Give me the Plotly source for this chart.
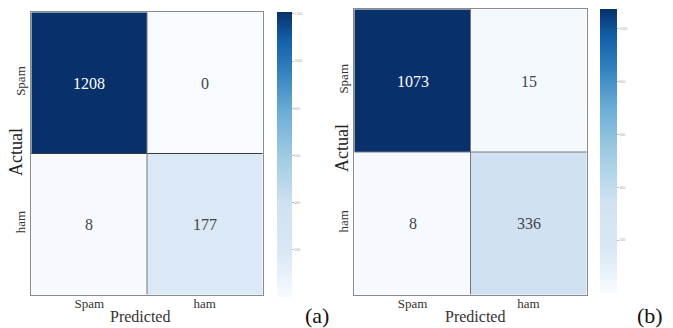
import plotly.graph_objects as go

# Confusion matrices for the two classifiers
labels = ["Spam", "ham"]
cm_a = [[1208, 0],
        [8, 177]]
cm_b = [[1073, 15],
        [8, 336]]
cbar_ticks = [200, 400, 600, 800, 1000, 1200]

W, H = 673, 328
SERIF = "Liberation Serif"

# blue sequential scale, kept pale through the lower third
blues = [
    [0.0, "#f7fbff"],
    [0.15, "#dae8f5"],
    [0.32, "#d0e2f2"],
    [0.5, "#9ecae1"],
    [0.65, "#6baed6"],
    [0.8, "#2f7ebc"],
    [0.9, "#1361a9"],
    [1.0, "#08306b"],
]


def px(v):
    return v / W


def py(v):
    return 1 - v / H


fig = go.Figure()

panels = [
    # matrix, axis suffix, heatmap box (x0, x1, ytop, ybot), colorbar (x, ytop, ybot, thick),
    # axis-title positions (actual_x, actual_y, predicted_x, predicted_y)
    (cm_a, "", (31, 263, 12, 295), (277, 12, 297, 15), (16, 152, 140, 316)),
    (cm_b, "2", (354, 587, 9, 295), (600, 9, 293, 17), (342, 148, 475, 316)),
]

for z, sfx, box, cb, tpos in panels:
    x0, x1, yt, yb = box
    zmax = max(max(r) for r in z)
    fig.add_trace(go.Heatmap(
        z=z, x=labels, y=labels,
        xaxis="x" + sfx, yaxis="y" + sfx,
        colorscale=blues, zmin=0, zmax=zmax,
        texttemplate="%{z}",
        textfont=dict(family=SERIF, size=16),
        hoverinfo="skip",
        colorbar=dict(
            x=px(cb[0]), xanchor="left", xpad=0,
            y=py(cb[1]), yanchor="top", ypad=0,
            len=(cb[2] - cb[1]) / H, lenmode="fraction",
            thickness=cb[3], thicknessmode="pixels",
            outlinewidth=0,
            tickvals=[t for t in cbar_ticks if t <= zmax],
            ticks="outside", ticklen=2, tickcolor="#bbbbbb",
            tickfont=dict(size=4, color="#aaaaaa", family=SERIF),
        ),
    ))
    xa = dict(
        domain=[px(x0), px(x1)], anchor="y" + sfx,
        showline=True, mirror=True, linecolor="#8a8a8a", linewidth=1,
        ticks="", showgrid=False, zeroline=False, ticklabelstandoff=-4,
        tickfont=dict(family=SERIF, size=13, color="#333333"),
    )
    ya = dict(
        domain=[py(yb), py(yt)], anchor="x" + sfx,
        autorange="reversed",
        showline=True, mirror=True, linecolor="#8a8a8a", linewidth=1,
        ticks="", showgrid=False, zeroline=False, tickangle=-90,
        tickfont=dict(family=SERIF, size=13, color="#333333"),
    )
    fig.update_layout({"xaxis" + sfx: xa, "yaxis" + sfx: ya})

    # axis titles
    fig.add_annotation(text="Actual", xref="paper", yref="paper",
                       x=px(tpos[0]), y=py(tpos[1]), xanchor="center", yanchor="middle",
                       textangle=-90, showarrow=False,
                       font=dict(family=SERIF, size=18, color="#222222"))
    fig.add_annotation(text="Predicted", xref="paper", yref="paper",
                       x=px(tpos[2]), y=py(tpos[3]), xanchor="center", yanchor="middle",
                       showarrow=False,
                       font=dict(family=SERIF, size=16, color="#333333"))

    # cell separators
    xr, yr = "x" + sfx, "y" + sfx
    fig.add_shape(type="line", xref=xr, yref=yr, x0=-0.5, x1=1.5, y0=0.5, y1=0.5,
                  line=dict(color="#3a3a3a" if sfx == "" else "#777777", width=1))
    fig.add_shape(type="line", xref=xr, yref=yr, x0=0.5, x1=0.5, y0=-0.5, y1=1.5,
                  line=dict(color="#777777", width=1))

# panel tags
fig.add_annotation(text="(a)", xref="paper", yref="paper", x=px(317), y=py(315),
                   xanchor="center", yanchor="middle",
                   showarrow=False, font=dict(family=SERIF, size=22, color="#111111"))
fig.add_annotation(text="(b)", xref="paper", yref="paper", x=px(650), y=py(315),
                   xanchor="center", yanchor="middle",
                   showarrow=False, font=dict(family=SERIF, size=22, color="#111111"))

fig.update_layout(
    width=W, height=H,
    margin=dict(l=0, r=0, t=0, b=0),
    paper_bgcolor="white", plot_bgcolor="white",
    showlegend=False,
)

fig.write_html("out.html")
